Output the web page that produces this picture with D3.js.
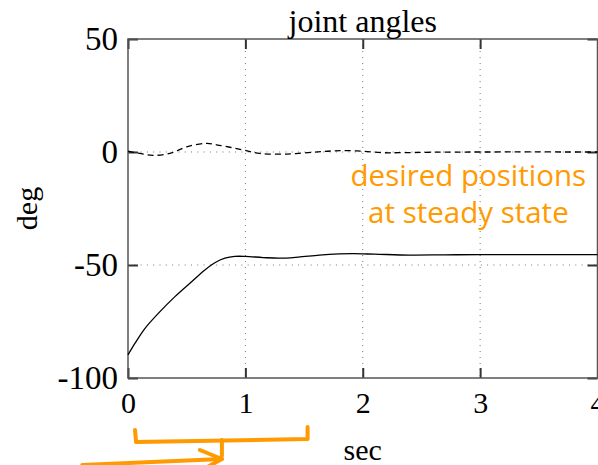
<!DOCTYPE html>
<html>
<head>
<meta charset="utf-8">
<script src="https://cdn.jsdelivr.net/npm/d3@7"></script>
<style>
	body { margin: 0; background: #fff; }
	svg { display: block; }
	.axis path { display: none; }
	.axis line { stroke: #333; stroke-width: 2; }
</style>
</head>
<body>
<svg width="598" height="465"></svg>
<script>
// joint angles over time
var timeSec = [0, 0.06, 0.145, 0.258, 0.4, 0.542, 0.655, 0.74, 0.826, 0.91, 1.0, 1.15, 1.29, 1.45, 1.63, 1.8, 1.92, 2.1, 2.4, 2.7, 3.0, 3.5, 4.0]
var joint1 = [-89.8, -84.6, -78, -71.4, -64, -57.4, -52.2, -49, -47, -46.2, -46.2, -46.7, -47.0, -46.5, -45.6, -45.1, -45.0, -45.2, -45.6, -45.5, -45.4, -45.4, -45.4]

var timeSec2 = [0, 0.1, 0.21, 0.357, 0.5, 0.67, 0.755, 0.87, 0.98, 1.12, 1.35, 1.58, 1.75, 1.95, 2.17, 2.31, 2.6, 3.0, 4.0]
var joint2 = [0.4, -0.6, -1.5, -0.6, 2.3, 3.8, 3.2, 2.1, 0.9, -0.6, -0.9, -0.1, 0.5, 0.5, -0.3, -0.3, -0.1, 0, 0]

var xTicks = [0, 1, 2, 3, 4]
var yTicks = [-100, -50, 0, 50]
var gridX = [1, 2, 3]
var gridY = [-50, 0]

// annotation: bracket below the time axis (x in sec), and label in data units
var bracketSec = [0.06, 0.8, 1.53]
var arrowStartSec = -0.39
var noteLines = ["desired positions", "at steady state"]
var noteAt = { t: 2.9, v: [-15, -31.6] }

var orange = "#ff9a00"
var serif = "'Liberation Serif', serif"

var svg = d3.select("svg")
var margin = {top: 39, right: 0.5, bottom: 87, left: 128}
var width = +svg.attr("width") - margin.left - margin.right
var height = +svg.attr("height") - margin.top - margin.bottom

var x = d3.scaleLinear().domain([0, 4]).range([margin.left, margin.left + width])
var y = d3.scaleLinear().domain([-100, 50]).range([margin.top + height, margin.top])

// dotted grid
svg.append("g").selectAll("line").data(gridX).enter().append("line")
	.attr("x1", function(d) { return x(d) }).attr("x2", function(d) { return x(d) })
	.attr("y1", y(50)).attr("y2", y(-100))
	.attr("stroke", "#777").attr("stroke-width", 1).attr("stroke-dasharray", "1,5")
svg.append("g").selectAll("line").data(gridY).enter().append("line")
	.attr("x1", x(0)).attr("x2", x(4))
	.attr("y1", function(d) { return y(d) }).attr("y2", function(d) { return y(d) })
	.attr("stroke", "#777").attr("stroke-width", 1).attr("stroke-dasharray", "1,5.3")

// axes, ticks pointing inward
var plain = function(d) { return String(d) }   // hyphen, not unicode minus
svg.append("g").attr("class", "axis")
	.attr("transform", "translate(" + x(0) + ",0)")
	.call(d3.axisLeft(y).tickValues(yTicks).tickSize(-10).tickPadding(10).tickFormat(plain))
	.selectAll("text").style("font-family", serif).style("font-size", "33px").attr("fill", "#000")
svg.append("g").attr("class", "axis")
	.attr("transform", "translate(" + x(4) + ",0)")
	.call(d3.axisRight(y).tickValues(yTicks).tickSize(-10).tickFormat(""))
svg.append("g").attr("class", "axis")
	.attr("transform", "translate(0," + y(-100) + ")")
	.call(d3.axisBottom(x).tickValues(xTicks).tickSize(-10).tickPadding(14).tickFormat(plain))
	.selectAll("text").style("font-family", serif).style("font-size", "30px").attr("fill", "#000")
svg.append("g").attr("class", "axis")
	.attr("transform", "translate(0," + y(50) + ")")
	.call(d3.axisTop(x).tickValues(xTicks).tickSize(-10).tickFormat(""))

// plot frame
svg.append("rect")
	.attr("x", x(0)).attr("y", y(50))
	.attr("width", x(4) - x(0)).attr("height", y(-100) - y(50))
	.attr("fill", "none").attr("stroke", "#555").attr("stroke-width", 1.5)

var line = d3.line()
	.curve(d3.curveCatmullRom.alpha(0.5))
	.x(function(d) { return x(d[0]) })
	.y(function(d) { return y(d[1]) })

svg.append("path")
	.attr("d", line(d3.zip(timeSec, joint1)))
	.attr("fill", "none").attr("stroke", "#000").attr("stroke-width", 1.3)
svg.append("path")
	.attr("d", line(d3.zip(timeSec2, joint2)))
	.attr("fill", "none").attr("stroke", "#000").attr("stroke-width", 1.3)
	.attr("stroke-dasharray", "6,4")

// labels
svg.append("text").attr("x", x(2)).attr("y", 32)
	.attr("text-anchor", "middle").style("font", "32px " + serif).text("joint angles")
svg.append("text").attr("x", x(2)).attr("y", 460)
	.attr("text-anchor", "middle").style("font", "30px " + serif).text("sec")
svg.append("text").attr("transform", "translate(37," + y(-25) + ") rotate(-90)")
	.attr("text-anchor", "middle").style("font", "30px " + serif).text("deg")

// orange annotation text
svg.append("g").selectAll("text").data(noteLines).enter().append("text")
	.attr("x", x(noteAt.t))
	.attr("y", function(d, i) { return y(noteAt.v[i]) })
	.attr("text-anchor", "middle")
	.attr("fill", orange)
	.style("font", "29.5px 'Open Sans', sans-serif")
	.text(function(d) { return d })

// hand-drawn bracket and arrow under the axis
var base = y(-100)
var bracket = d3.line()([
	[x(bracketSec[0]), base + 52], [x(bracketSec[0]) + 1, base + 64],
	[x(bracketSec[2]), base + 61], [x(bracketSec[2]), base + 49]
])
svg.append("path").attr("d", bracket)
	.attr("fill", "none").attr("stroke", orange).attr("stroke-width", 4)
	.attr("stroke-linejoin", "round").attr("stroke-linecap", "round")
svg.append("path").attr("d", d3.line()([[x(bracketSec[1]), base + 62], [x(bracketSec[1]), base + 78]]))
	.attr("fill", "none").attr("stroke", orange).attr("stroke-width", 4).attr("stroke-linecap", "round")
svg.append("path").attr("d", d3.line()([[x(arrowStartSec), base + 87], [x(bracketSec[1]), base + 81]]))
	.attr("fill", "none").attr("stroke", orange).attr("stroke-width", 4).attr("stroke-linecap", "round")
svg.append("path").attr("d", d3.line()([[x(bracketSec[1]) - 22, base + 72], [x(bracketSec[1]), base + 81], [x(bracketSec[1]) - 20, base + 92]]))
	.attr("fill", "none").attr("stroke", orange).attr("stroke-width", 4)
	.attr("stroke-linejoin", "round").attr("stroke-linecap", "round")
</script>
</body>
</html>
